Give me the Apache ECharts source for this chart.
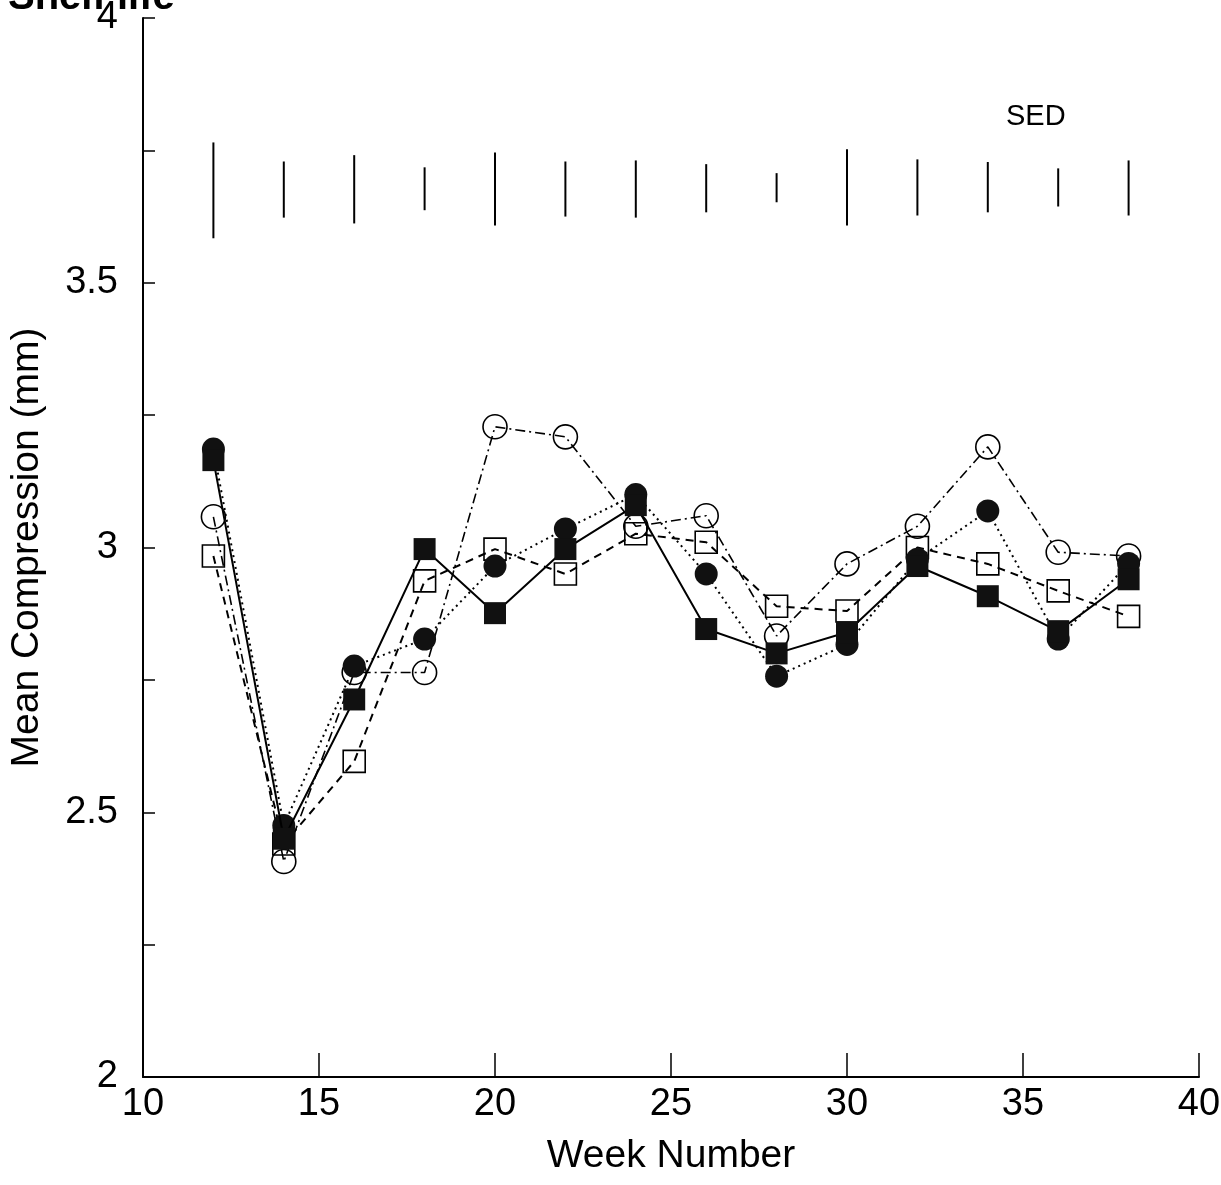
<!DOCTYPE html>
<html>
<head>
<meta charset="utf-8">
<script src="https://cdn.jsdelivr.net/npm/echarts@6/dist/echarts.min.js"></script>
<style>
html,body{margin:0;padding:0;background:#fff;}
#chart{width:1221px;height:1185px;}
</style>
</head>
<body>
<div id="chart"></div>
<script>
// ---- data ----
const weeks = [12,14,16,18,20,22,24,26,28,30,32,34,36,38];
const filledSquare = [3.165,2.45,2.713,2.997,2.876,2.997,3.08,2.846,2.80,2.84,2.965,2.908,2.842,2.94];
const filledCircle = [3.186,2.475,2.776,2.827,2.965,3.035,3.10,2.95,2.757,2.817,2.978,3.069,2.827,2.97];
const openCircle   = [3.058,2.407,2.764,2.764,3.228,3.209,3.04,3.06,2.833,2.969,3.04,3.19,2.991,2.984];
const openSquare   = [2.984,2.44,2.596,2.937,2.997,2.95,3.026,3.01,2.889,2.88,3.0,2.969,2.918,2.87];
const sedLow  = [3.584,3.623,3.612,3.637,3.608,3.625,3.623,3.633,3.652,3.608,3.627,3.633,3.644,3.627];
const sedHigh = [3.765,3.729,3.741,3.718,3.746,3.729,3.731,3.724,3.707,3.752,3.733,3.728,3.716,3.731];
const xTicks = [10,15,20,25,30,35,40];
const yLabels = [2,2.5,3,3.5,4];
const sedLabel = 'SED';
const titleText = 'Shelf life';
const xName = 'Week Number';
const yName = 'Mean Compression (mm)';

const FONT = '"Liberation Sans", Arial, Helvetica, sans-serif';
const pairs = arr => weeks.map((w,i)=>[w, arr[i]]);

const chart = echarts.init(document.getElementById('chart'), null, {renderer:'canvas'});
const transparent = 'rgba(0,0,0,0)';

const option = {
  backgroundColor:'#fff',
  animation:false,
  grid:{left:143, right:22, top:18, bottom:108, containLabel:false, outerBoundsMode:'none'},
  xAxis:{
    type:'value', min:10, max:40, interval:5,
    name:xName, nameLocation:'middle', nameGap:60,
    nameTextStyle:{fontFamily:FONT, fontSize:39, color:'#000'},
    axisLine:{show:true, onZero:false, lineStyle:{color:'#000', width:2}},
    axisTick:{show:true, inside:true, length:24, lineStyle:{color:'#000', width:1.5}},
    axisLabel:{fontFamily:FONT, fontSize:38, color:'#000', margin:9,
      formatter:v => xTicks.indexOf(v) >= 0 ? String(v) : ''},
    splitLine:{show:false}
  },
  yAxis:{
    type:'value', min:2, max:4, interval:0.25,
    name:yName, nameLocation:'middle', nameGap:96, nameRotate:90,
    nameTextStyle:{fontFamily:FONT, fontSize:39, color:'#000'},
    axisLine:{show:true, onZero:false, lineStyle:{color:'#000', width:2}},
    axisTick:{show:true, inside:true, length:12, lineStyle:{color:'#000', width:1.5}},
    axisLabel:{fontFamily:FONT, fontSize:38, color:'#000', margin:25,
      formatter:v => yLabels.some(t => Math.abs(t - v) < 1e-6) ? String(v) : ''},
    splitLine:{show:false}
  },
  graphic:[
    {type:'text', left:1006, top:102, style:{text:sedLabel, font:'29px ' + FONT, fill:'#000'}},
    {type:'text', x:8, y:18, style:{text:titleText, font:'bold 40px ' + FONT, fill:'#000', verticalAlign:'bottom'}}
  ],
  series:[
    {
      type:'custom', name:'SED',
      renderItem:(params, api) => {
        const p1 = api.coord([api.value(0), api.value(1)]);
        const p2 = api.coord([api.value(0), api.value(2)]);
        return {type:'line', shape:{x1:p1[0], y1:p1[1], x2:p2[0], y2:p2[1]},
          style:{stroke:'#000', lineWidth:2}};
      },
      encode:{x:0, y:[1,2]},
      data: weeks.map((w,i)=>[w, sedLow[i], sedHigh[i]]),
      z:1
    },
    {
      type:'line', name:'open circle', data:pairs(openCircle),
      symbol:'circle', symbolSize:24,
      lineStyle:{color:'#000', width:1.6, type:[10,4,2,4]},
      itemStyle:{color:transparent, borderColor:'#000', borderWidth:1.6},
      z:2
    },
    {
      type:'line', name:'open square', data:pairs(openSquare),
      symbol:'rect', symbolSize:22,
      lineStyle:{color:'#000', width:2, type:[8,6]},
      itemStyle:{color:transparent, borderColor:'#000', borderWidth:1.6},
      z:3
    },
    {
      type:'line', name:'filled circle', data:pairs(filledCircle),
      symbol:'circle', symbolSize:23,
      lineStyle:{color:'#000', width:2, type:[2,4]},
      itemStyle:{color:'#111', borderColor:'#111', borderWidth:0},
      z:4
    },
    {
      type:'line', name:'filled square', data:pairs(filledSquare),
      symbol:'rect', symbolSize:22,
      lineStyle:{color:'#000', width:2, type:'solid'},
      itemStyle:{color:'#111', borderColor:'#111', borderWidth:0},
      z:5
    }
  ]
};
chart.setOption(option);
</script>
</body>
</html>
